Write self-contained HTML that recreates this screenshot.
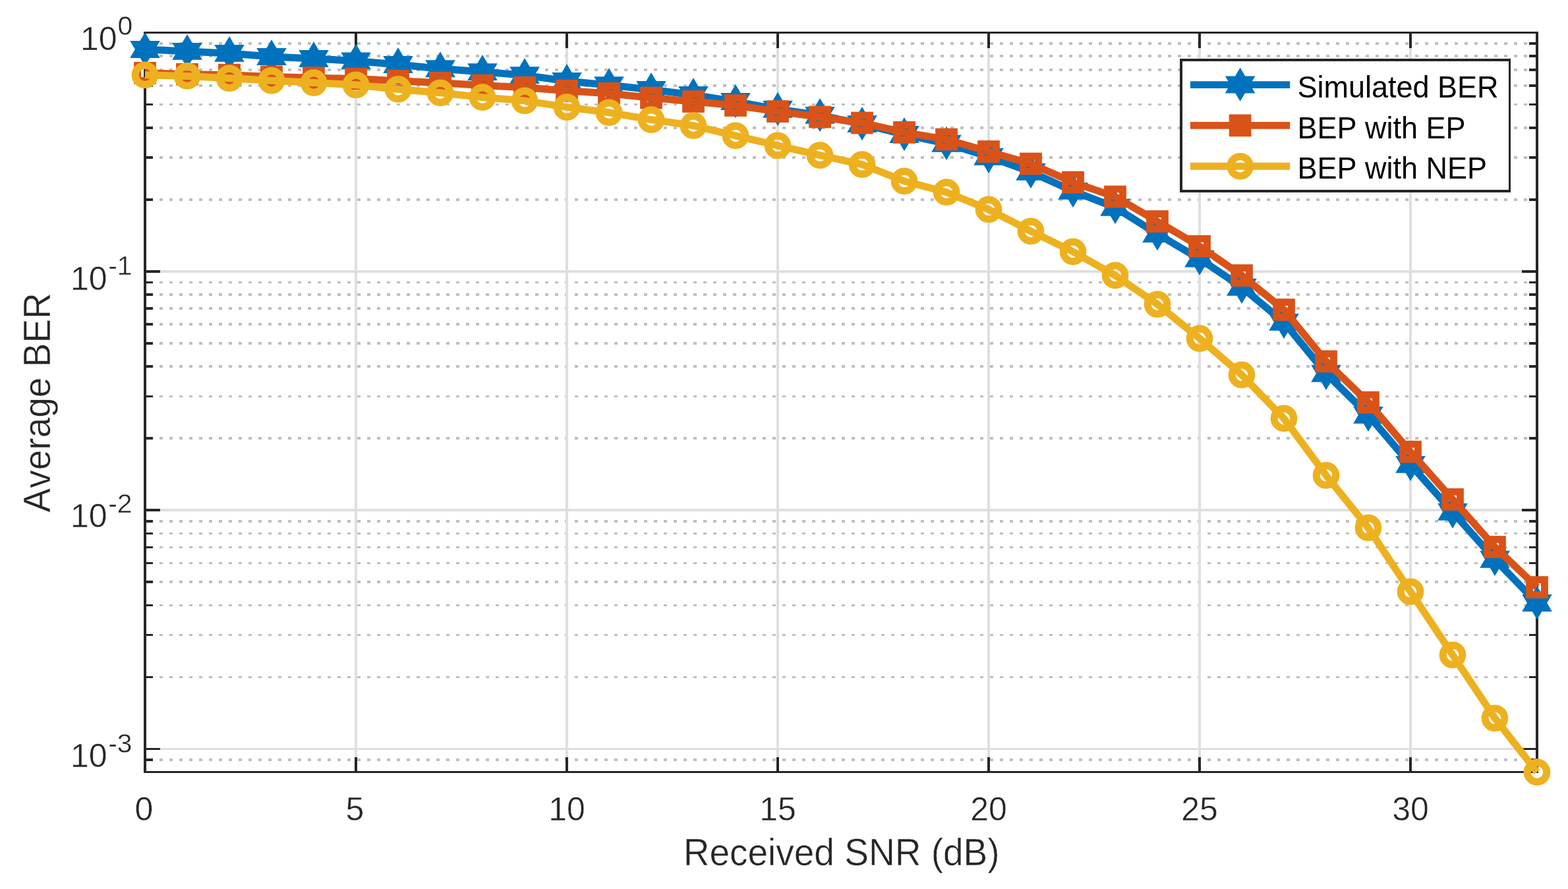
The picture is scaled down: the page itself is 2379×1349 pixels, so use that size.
<!DOCTYPE html>
<html lang="en">
<head>
<meta charset="utf-8">
<title>Average BER versus Received SNR</title>
<style>
html,body{margin:0;padding:0;background:#ffffff;}
body{width:2379px;height:1349px;overflow:hidden;}
svg{display:block;}
text{font-family:"Liberation Sans",sans-serif;font-kerning:none;}
.tk{font-size:50px;fill:#262626;stroke:#ffffff;stroke-width:0.5px;}
.sup{font-size:40.8px;fill:#262626;stroke:#ffffff;stroke-width:0.4px;}
.lab{font-size:55px;fill:#262626;stroke:#ffffff;stroke-width:0.5px;}
.leg{font-size:45px;fill:#000000;}
</style>
</head>
<body>
<svg width="2379" height="1349" viewBox="0 0 2379 1349">
<rect x="0" y="0" width="2379" height="1349" fill="#ffffff"/>
<g id="minor-grid" stroke="#bfbfbf" stroke-dasharray="5 10" fill="none" shape-rendering="crispEdges">
<line x1="242" y1="303" x2="2320" y2="303" stroke-width="4"/>
<line x1="242" y1="239" x2="2320" y2="239" stroke-width="4"/>
<line x1="242" y1="194" x2="2320" y2="194" stroke-width="4"/>
<line x1="242" y1="158.5" x2="2320" y2="158.5" stroke-width="3"/>
<line x1="242" y1="130" x2="2320" y2="130" stroke-width="4"/>
<line x1="242" y1="106" x2="2320" y2="106" stroke-width="4"/>
<line x1="242" y1="85" x2="2320" y2="85" stroke-width="4"/>
<line x1="242" y1="66" x2="2320" y2="66" stroke-width="4"/>
<line x1="242" y1="665" x2="2320" y2="665" stroke-width="4"/>
<line x1="242" y1="601.5" x2="2320" y2="601.5" stroke-width="3"/>
<line x1="242" y1="556" x2="2320" y2="556" stroke-width="4"/>
<line x1="242" y1="521" x2="2320" y2="521" stroke-width="4"/>
<line x1="242" y1="492" x2="2320" y2="492" stroke-width="4"/>
<line x1="242" y1="468" x2="2320" y2="468" stroke-width="4"/>
<line x1="242" y1="447" x2="2320" y2="447" stroke-width="4"/>
<line x1="242" y1="428.5" x2="2320" y2="428.5" stroke-width="3"/>
<line x1="242" y1="1027.5" x2="2320" y2="1027.5" stroke-width="3"/>
<line x1="242" y1="963.5" x2="2320" y2="963.5" stroke-width="3"/>
<line x1="242" y1="918.5" x2="2320" y2="918.5" stroke-width="3"/>
<line x1="242" y1="883" x2="2320" y2="883" stroke-width="4"/>
<line x1="242" y1="854.5" x2="2320" y2="854.5" stroke-width="3"/>
<line x1="242" y1="830.5" x2="2320" y2="830.5" stroke-width="3"/>
<line x1="242" y1="809.5" x2="2320" y2="809.5" stroke-width="3"/>
<line x1="242" y1="791" x2="2320" y2="791" stroke-width="4"/>
<line x1="242" y1="1153" x2="2320" y2="1153" stroke-width="4"/>
</g>
<g id="major-grid" stroke="#dfdfdf" fill="none" shape-rendering="crispEdges">
<line x1="540" y1="51" x2="540" y2="1170" stroke-width="4"/>
<line x1="860" y1="51" x2="860" y2="1170" stroke-width="4"/>
<line x1="1180" y1="51" x2="1180" y2="1170" stroke-width="4"/>
<line x1="1500" y1="51" x2="1500" y2="1170" stroke-width="4"/>
<line x1="1820" y1="51" x2="1820" y2="1170" stroke-width="4"/>
<line x1="2140" y1="51" x2="2140" y2="1170" stroke-width="4"/>
<line x1="222" y1="412" x2="2330" y2="412" stroke-width="4"/>
<line x1="222" y1="774" x2="2330" y2="774" stroke-width="4"/>
<line x1="222" y1="1136.5" x2="2330" y2="1136.5" stroke-width="3"/>
</g>
<g id="axes" stroke="#262626" fill="none" shape-rendering="crispEdges">
<line x1="540" y1="1149" x2="540" y2="1171" stroke-width="4"/>
<line x1="540" y1="50" x2="540" y2="73" stroke-width="4"/>
<line x1="860" y1="1149" x2="860" y2="1171" stroke-width="4"/>
<line x1="860" y1="50" x2="860" y2="73" stroke-width="4"/>
<line x1="1180" y1="1149" x2="1180" y2="1171" stroke-width="4"/>
<line x1="1180" y1="50" x2="1180" y2="73" stroke-width="4"/>
<line x1="1500" y1="1149" x2="1500" y2="1171" stroke-width="4"/>
<line x1="1500" y1="50" x2="1500" y2="73" stroke-width="4"/>
<line x1="1820" y1="1149" x2="1820" y2="1171" stroke-width="4"/>
<line x1="1820" y1="50" x2="1820" y2="73" stroke-width="4"/>
<line x1="2140" y1="1149" x2="2140" y2="1171" stroke-width="4"/>
<line x1="2140" y1="50" x2="2140" y2="73" stroke-width="4"/>
<line x1="220" y1="412" x2="243" y2="412" stroke-width="4"/>
<line x1="2309" y1="412" x2="2332" y2="412" stroke-width="4"/>
<line x1="220" y1="774" x2="243" y2="774" stroke-width="4"/>
<line x1="2309" y1="774" x2="2332" y2="774" stroke-width="4"/>
<line x1="220" y1="1136.5" x2="243" y2="1136.5" stroke-width="3"/>
<line x1="2309" y1="1136.5" x2="2332" y2="1136.5" stroke-width="3"/>
<line x1="220" y1="303" x2="232" y2="303" stroke-width="4"/>
<line x1="2320" y1="303" x2="2332" y2="303" stroke-width="4"/>
<line x1="220" y1="239" x2="232" y2="239" stroke-width="4"/>
<line x1="2320" y1="239" x2="2332" y2="239" stroke-width="4"/>
<line x1="220" y1="194" x2="232" y2="194" stroke-width="4"/>
<line x1="2320" y1="194" x2="2332" y2="194" stroke-width="4"/>
<line x1="220" y1="158.5" x2="232" y2="158.5" stroke-width="3"/>
<line x1="2320" y1="158.5" x2="2332" y2="158.5" stroke-width="3"/>
<line x1="220" y1="130" x2="232" y2="130" stroke-width="4"/>
<line x1="2320" y1="130" x2="2332" y2="130" stroke-width="4"/>
<line x1="220" y1="106" x2="232" y2="106" stroke-width="4"/>
<line x1="2320" y1="106" x2="2332" y2="106" stroke-width="4"/>
<line x1="220" y1="85" x2="232" y2="85" stroke-width="4"/>
<line x1="2320" y1="85" x2="2332" y2="85" stroke-width="4"/>
<line x1="220" y1="66" x2="232" y2="66" stroke-width="4"/>
<line x1="2320" y1="66" x2="2332" y2="66" stroke-width="4"/>
<line x1="220" y1="665" x2="232" y2="665" stroke-width="4"/>
<line x1="2320" y1="665" x2="2332" y2="665" stroke-width="4"/>
<line x1="220" y1="601.5" x2="232" y2="601.5" stroke-width="3"/>
<line x1="2320" y1="601.5" x2="2332" y2="601.5" stroke-width="3"/>
<line x1="220" y1="556" x2="232" y2="556" stroke-width="4"/>
<line x1="2320" y1="556" x2="2332" y2="556" stroke-width="4"/>
<line x1="220" y1="521" x2="232" y2="521" stroke-width="4"/>
<line x1="2320" y1="521" x2="2332" y2="521" stroke-width="4"/>
<line x1="220" y1="492" x2="232" y2="492" stroke-width="4"/>
<line x1="2320" y1="492" x2="2332" y2="492" stroke-width="4"/>
<line x1="220" y1="468" x2="232" y2="468" stroke-width="4"/>
<line x1="2320" y1="468" x2="2332" y2="468" stroke-width="4"/>
<line x1="220" y1="447" x2="232" y2="447" stroke-width="4"/>
<line x1="2320" y1="447" x2="2332" y2="447" stroke-width="4"/>
<line x1="220" y1="428.5" x2="232" y2="428.5" stroke-width="3"/>
<line x1="2320" y1="428.5" x2="2332" y2="428.5" stroke-width="3"/>
<line x1="220" y1="1027.5" x2="232" y2="1027.5" stroke-width="3"/>
<line x1="2320" y1="1027.5" x2="2332" y2="1027.5" stroke-width="3"/>
<line x1="220" y1="963.5" x2="232" y2="963.5" stroke-width="3"/>
<line x1="2320" y1="963.5" x2="2332" y2="963.5" stroke-width="3"/>
<line x1="220" y1="918.5" x2="232" y2="918.5" stroke-width="3"/>
<line x1="2320" y1="918.5" x2="2332" y2="918.5" stroke-width="3"/>
<line x1="220" y1="883" x2="232" y2="883" stroke-width="4"/>
<line x1="2320" y1="883" x2="2332" y2="883" stroke-width="4"/>
<line x1="220" y1="854.5" x2="232" y2="854.5" stroke-width="3"/>
<line x1="2320" y1="854.5" x2="2332" y2="854.5" stroke-width="3"/>
<line x1="220" y1="830.5" x2="232" y2="830.5" stroke-width="3"/>
<line x1="2320" y1="830.5" x2="2332" y2="830.5" stroke-width="3"/>
<line x1="220" y1="809.5" x2="232" y2="809.5" stroke-width="3"/>
<line x1="2320" y1="809.5" x2="2332" y2="809.5" stroke-width="3"/>
<line x1="220" y1="791" x2="232" y2="791" stroke-width="4"/>
<line x1="2320" y1="791" x2="2332" y2="791" stroke-width="4"/>
<line x1="220" y1="1153" x2="232" y2="1153" stroke-width="4"/>
<line x1="2320" y1="1153" x2="2332" y2="1153" stroke-width="4"/>
<line x1="218" y1="49.5" x2="2334" y2="49.5" stroke-width="3"/>
<line x1="218" y1="1171.5" x2="2334" y2="1171.5" stroke-width="3"/>
<line x1="220" y1="48" x2="220" y2="1173" stroke-width="4"/>
<line x1="2332" y1="48" x2="2332" y2="1173" stroke-width="4"/>
</g>
<g id="xticklabels" class="tk" text-anchor="middle">
<text x="218.4" y="1245">0</text>
<text x="538.4" y="1245">5</text>
<text x="860" y="1245">10</text>
<text x="1180" y="1245">15</text>
<text x="1500" y="1245">20</text>
<text x="1820" y="1245">25</text>
<text x="2140" y="1245">30</text>
</g>
<g id="yticklabels">
<text class="tk" x="122" y="76.1">10</text><text class="sup" x="178.4" y="53.4">0</text>
<text class="tk" x="107" y="439.9">10</text><text class="sup" x="164.2" y="417">-1</text>
<text class="tk" x="107" y="800">10</text><text class="sup" x="164.2" y="777.9">-2</text>
<text class="tk" x="107" y="1164">10</text><text class="sup" x="164.2" y="1141.5">-3</text>
</g>
<text class="lab" text-anchor="middle" transform="translate(1276.6 1313.2) scale(1 1.04)">Received SNR (dB)</text>
<text class="lab" text-anchor="middle" transform="translate(76 610.8) rotate(-90) scale(1 1.04)">Average BER</text>
<g id="simulated-ber">
<polyline points="220,74.95 284,77.9 348,80.9 412,85.95 476,89 540,92.4 604,98 668,104.2 732,109.1 796,114.1 860,123 924,129.15 988,136.05 1052,143.95 1116,154.05 1180,165.8 1244,174.9 1308,188.1 1372,204.05 1436,217.8 1500,237.7 1564,260.9 1628,289.9 1692,314.8 1756,355.1 1820,392.65 1884,435.7 1948,488.9 2012,566.8 2076,629.9 2140,704.9 2204,776.8 2268,848.8 2332,915.05" fill="none" stroke="#0072BD" stroke-width="11.0" stroke-linejoin="miter" stroke-linecap="butt"/>
<polygon points="220,48.95 242.8,87.9 197.2,87.9" fill="#0072BD"/><polygon points="220,100.15 242.8,62 197.2,62" fill="#0072BD"/>
<polygon points="284,51.9 306.8,90.85 261.2,90.85" fill="#0072BD"/><polygon points="284,103.1 306.8,64.95 261.2,64.95" fill="#0072BD"/>
<polygon points="348,54.9 370.8,93.85 325.2,93.85" fill="#0072BD"/><polygon points="348,106.1 370.8,67.95 325.2,67.95" fill="#0072BD"/>
<polygon points="412,59.95 434.8,98.9 389.2,98.9" fill="#0072BD"/><polygon points="412,111.15 434.8,73 389.2,73" fill="#0072BD"/>
<polygon points="476,63 498.8,101.95 453.2,101.95" fill="#0072BD"/><polygon points="476,114.2 498.8,76.05 453.2,76.05" fill="#0072BD"/>
<polygon points="540,66.4 562.8,105.35 517.2,105.35" fill="#0072BD"/><polygon points="540,117.6 562.8,79.45 517.2,79.45" fill="#0072BD"/>
<polygon points="604,72 626.8,110.95 581.2,110.95" fill="#0072BD"/><polygon points="604,123.2 626.8,85.05 581.2,85.05" fill="#0072BD"/>
<polygon points="668,78.2 690.8,117.15 645.2,117.15" fill="#0072BD"/><polygon points="668,129.4 690.8,91.25 645.2,91.25" fill="#0072BD"/>
<polygon points="732,83.1 754.8,122.05 709.2,122.05" fill="#0072BD"/><polygon points="732,134.3 754.8,96.15 709.2,96.15" fill="#0072BD"/>
<polygon points="796,88.1 818.8,127.05 773.2,127.05" fill="#0072BD"/><polygon points="796,139.3 818.8,101.15 773.2,101.15" fill="#0072BD"/>
<polygon points="860,97 882.8,135.95 837.2,135.95" fill="#0072BD"/><polygon points="860,148.2 882.8,110.05 837.2,110.05" fill="#0072BD"/>
<polygon points="924,103.15 946.8,142.1 901.2,142.1" fill="#0072BD"/><polygon points="924,154.35 946.8,116.2 901.2,116.2" fill="#0072BD"/>
<polygon points="988,110.05 1010.8,149 965.2,149" fill="#0072BD"/><polygon points="988,161.25 1010.8,123.1 965.2,123.1" fill="#0072BD"/>
<polygon points="1052,117.95 1074.8,156.9 1029.2,156.9" fill="#0072BD"/><polygon points="1052,169.15 1074.8,131 1029.2,131" fill="#0072BD"/>
<polygon points="1116,128.05 1138.8,167 1093.2,167" fill="#0072BD"/><polygon points="1116,179.25 1138.8,141.1 1093.2,141.1" fill="#0072BD"/>
<polygon points="1180,139.8 1202.8,178.75 1157.2,178.75" fill="#0072BD"/><polygon points="1180,191 1202.8,152.85 1157.2,152.85" fill="#0072BD"/>
<polygon points="1244,148.9 1266.8,187.85 1221.2,187.85" fill="#0072BD"/><polygon points="1244,200.1 1266.8,161.95 1221.2,161.95" fill="#0072BD"/>
<polygon points="1308,162.1 1330.8,201.05 1285.2,201.05" fill="#0072BD"/><polygon points="1308,213.3 1330.8,175.15 1285.2,175.15" fill="#0072BD"/>
<polygon points="1372,178.05 1394.8,217 1349.2,217" fill="#0072BD"/><polygon points="1372,229.25 1394.8,191.1 1349.2,191.1" fill="#0072BD"/>
<polygon points="1436,191.8 1458.8,230.75 1413.2,230.75" fill="#0072BD"/><polygon points="1436,243 1458.8,204.85 1413.2,204.85" fill="#0072BD"/>
<polygon points="1500,211.7 1522.8,250.65 1477.2,250.65" fill="#0072BD"/><polygon points="1500,262.9 1522.8,224.75 1477.2,224.75" fill="#0072BD"/>
<polygon points="1564,234.9 1586.8,273.85 1541.2,273.85" fill="#0072BD"/><polygon points="1564,286.1 1586.8,247.95 1541.2,247.95" fill="#0072BD"/>
<polygon points="1628,263.9 1650.8,302.85 1605.2,302.85" fill="#0072BD"/><polygon points="1628,315.1 1650.8,276.95 1605.2,276.95" fill="#0072BD"/>
<polygon points="1692,288.8 1714.8,327.75 1669.2,327.75" fill="#0072BD"/><polygon points="1692,340 1714.8,301.85 1669.2,301.85" fill="#0072BD"/>
<polygon points="1756,329.1 1778.8,368.05 1733.2,368.05" fill="#0072BD"/><polygon points="1756,380.3 1778.8,342.15 1733.2,342.15" fill="#0072BD"/>
<polygon points="1820,366.65 1842.8,405.6 1797.2,405.6" fill="#0072BD"/><polygon points="1820,417.85 1842.8,379.7 1797.2,379.7" fill="#0072BD"/>
<polygon points="1884,409.7 1906.8,448.65 1861.2,448.65" fill="#0072BD"/><polygon points="1884,460.9 1906.8,422.75 1861.2,422.75" fill="#0072BD"/>
<polygon points="1948,462.9 1970.8,501.85 1925.2,501.85" fill="#0072BD"/><polygon points="1948,514.1 1970.8,475.95 1925.2,475.95" fill="#0072BD"/>
<polygon points="2012,540.8 2034.8,579.75 1989.2,579.75" fill="#0072BD"/><polygon points="2012,592 2034.8,553.85 1989.2,553.85" fill="#0072BD"/>
<polygon points="2076,603.9 2098.8,642.85 2053.2,642.85" fill="#0072BD"/><polygon points="2076,655.1 2098.8,616.95 2053.2,616.95" fill="#0072BD"/>
<polygon points="2140,678.9 2162.8,717.85 2117.2,717.85" fill="#0072BD"/><polygon points="2140,730.1 2162.8,691.95 2117.2,691.95" fill="#0072BD"/>
<polygon points="2204,750.8 2226.8,789.75 2181.2,789.75" fill="#0072BD"/><polygon points="2204,802 2226.8,763.85 2181.2,763.85" fill="#0072BD"/>
<polygon points="2268,822.8 2290.8,861.75 2245.2,861.75" fill="#0072BD"/><polygon points="2268,874 2290.8,835.85 2245.2,835.85" fill="#0072BD"/>
<polygon points="2332,889.05 2354.8,928 2309.2,928" fill="#0072BD"/><polygon points="2332,940.25 2354.8,902.1 2309.2,902.1" fill="#0072BD"/>
</g>
<g id="bep-ep">
<polyline points="220,110.8 284,112.7 348,113.7 412,116.5 476,118.1 540,119.6 604,122.7 668,125.7 732,129.6 796,132.8 860,137.7 924,141.7 988,148.5 1052,154 1116,160 1180,169.1 1244,177.5 1308,186.5 1372,200.9 1436,211.5 1500,230 1564,248.5 1628,276.6 1692,298.5 1756,336 1820,373.7 1884,418 1948,470 2012,548.4 2076,610.6 2140,685.6 2204,757.8 2268,830 2332,891.1" fill="none" stroke="#D95319" stroke-width="11.0" stroke-linejoin="miter" stroke-linecap="butt"/>
<rect x="208.55" y="99.35" width="22.9" height="22.9" fill="none" stroke="#D95319" stroke-width="10.85"/>
<rect x="272.55" y="101.25" width="22.9" height="22.9" fill="none" stroke="#D95319" stroke-width="10.85"/>
<rect x="336.55" y="102.25" width="22.9" height="22.9" fill="none" stroke="#D95319" stroke-width="10.85"/>
<rect x="400.55" y="105.05" width="22.9" height="22.9" fill="none" stroke="#D95319" stroke-width="10.85"/>
<rect x="464.55" y="106.65" width="22.9" height="22.9" fill="none" stroke="#D95319" stroke-width="10.85"/>
<rect x="528.55" y="108.15" width="22.9" height="22.9" fill="none" stroke="#D95319" stroke-width="10.85"/>
<rect x="592.55" y="111.25" width="22.9" height="22.9" fill="none" stroke="#D95319" stroke-width="10.85"/>
<rect x="656.55" y="114.25" width="22.9" height="22.9" fill="none" stroke="#D95319" stroke-width="10.85"/>
<rect x="720.55" y="118.15" width="22.9" height="22.9" fill="none" stroke="#D95319" stroke-width="10.85"/>
<rect x="784.55" y="121.35" width="22.9" height="22.9" fill="none" stroke="#D95319" stroke-width="10.85"/>
<rect x="848.55" y="126.25" width="22.9" height="22.9" fill="none" stroke="#D95319" stroke-width="10.85"/>
<rect x="912.55" y="130.25" width="22.9" height="22.9" fill="none" stroke="#D95319" stroke-width="10.85"/>
<rect x="976.55" y="137.05" width="22.9" height="22.9" fill="none" stroke="#D95319" stroke-width="10.85"/>
<rect x="1040.55" y="142.55" width="22.9" height="22.9" fill="none" stroke="#D95319" stroke-width="10.85"/>
<rect x="1104.55" y="148.55" width="22.9" height="22.9" fill="none" stroke="#D95319" stroke-width="10.85"/>
<rect x="1168.55" y="157.65" width="22.9" height="22.9" fill="none" stroke="#D95319" stroke-width="10.85"/>
<rect x="1232.55" y="166.05" width="22.9" height="22.9" fill="none" stroke="#D95319" stroke-width="10.85"/>
<rect x="1296.55" y="175.05" width="22.9" height="22.9" fill="none" stroke="#D95319" stroke-width="10.85"/>
<rect x="1360.55" y="189.45" width="22.9" height="22.9" fill="none" stroke="#D95319" stroke-width="10.85"/>
<rect x="1424.55" y="200.05" width="22.9" height="22.9" fill="none" stroke="#D95319" stroke-width="10.85"/>
<rect x="1488.55" y="218.55" width="22.9" height="22.9" fill="none" stroke="#D95319" stroke-width="10.85"/>
<rect x="1552.55" y="237.05" width="22.9" height="22.9" fill="none" stroke="#D95319" stroke-width="10.85"/>
<rect x="1616.55" y="265.15" width="22.9" height="22.9" fill="none" stroke="#D95319" stroke-width="10.85"/>
<rect x="1680.55" y="287.05" width="22.9" height="22.9" fill="none" stroke="#D95319" stroke-width="10.85"/>
<rect x="1744.55" y="324.55" width="22.9" height="22.9" fill="none" stroke="#D95319" stroke-width="10.85"/>
<rect x="1808.55" y="362.25" width="22.9" height="22.9" fill="none" stroke="#D95319" stroke-width="10.85"/>
<rect x="1872.55" y="406.55" width="22.9" height="22.9" fill="none" stroke="#D95319" stroke-width="10.85"/>
<rect x="1936.55" y="458.55" width="22.9" height="22.9" fill="none" stroke="#D95319" stroke-width="10.85"/>
<rect x="2000.55" y="536.95" width="22.9" height="22.9" fill="none" stroke="#D95319" stroke-width="10.85"/>
<rect x="2064.55" y="599.15" width="22.9" height="22.9" fill="none" stroke="#D95319" stroke-width="10.85"/>
<rect x="2128.55" y="674.15" width="22.9" height="22.9" fill="none" stroke="#D95319" stroke-width="10.85"/>
<rect x="2192.55" y="746.35" width="22.9" height="22.9" fill="none" stroke="#D95319" stroke-width="10.85"/>
<rect x="2256.55" y="818.55" width="22.9" height="22.9" fill="none" stroke="#D95319" stroke-width="10.85"/>
<rect x="2320.55" y="879.65" width="22.9" height="22.9" fill="none" stroke="#D95319" stroke-width="10.85"/>
</g>
<g id="bep-nep">
<polyline points="220,113.75 284,115.45 348,118.75 412,122.25 476,125.55 540,128.75 604,135.45 668,140.75 732,147.65 796,152.85 860,162.65 924,170.75 988,181.55 1052,190.65 1116,205.95 1180,220.85 1244,235.65 1308,249.55 1372,274.85 1436,291.65 1500,317.85 1564,350.75 1628,381.85 1692,417.85 1756,461.75 1820,513.55 1884,568.85 1948,634.95 2012,721.35 2076,800.95 2140,897.75 2204,993.75 2268,1089.75 2332,1171.7" fill="none" stroke="#EDB120" stroke-width="11.0" stroke-linejoin="miter" stroke-linecap="butt"/>
<circle cx="220" cy="113.75" r="14.8" fill="none" stroke="#EDB120" stroke-width="11.1"/>
<circle cx="284" cy="115.45" r="14.8" fill="none" stroke="#EDB120" stroke-width="11.1"/>
<circle cx="348" cy="118.75" r="14.8" fill="none" stroke="#EDB120" stroke-width="11.1"/>
<circle cx="412" cy="122.25" r="14.8" fill="none" stroke="#EDB120" stroke-width="11.1"/>
<circle cx="476" cy="125.55" r="14.8" fill="none" stroke="#EDB120" stroke-width="11.1"/>
<circle cx="540" cy="128.75" r="14.8" fill="none" stroke="#EDB120" stroke-width="11.1"/>
<circle cx="604" cy="135.45" r="14.8" fill="none" stroke="#EDB120" stroke-width="11.1"/>
<circle cx="668" cy="140.75" r="14.8" fill="none" stroke="#EDB120" stroke-width="11.1"/>
<circle cx="732" cy="147.65" r="14.8" fill="none" stroke="#EDB120" stroke-width="11.1"/>
<circle cx="796" cy="152.85" r="14.8" fill="none" stroke="#EDB120" stroke-width="11.1"/>
<circle cx="860" cy="162.65" r="14.8" fill="none" stroke="#EDB120" stroke-width="11.1"/>
<circle cx="924" cy="170.75" r="14.8" fill="none" stroke="#EDB120" stroke-width="11.1"/>
<circle cx="988" cy="181.55" r="14.8" fill="none" stroke="#EDB120" stroke-width="11.1"/>
<circle cx="1052" cy="190.65" r="14.8" fill="none" stroke="#EDB120" stroke-width="11.1"/>
<circle cx="1116" cy="205.95" r="14.8" fill="none" stroke="#EDB120" stroke-width="11.1"/>
<circle cx="1180" cy="220.85" r="14.8" fill="none" stroke="#EDB120" stroke-width="11.1"/>
<circle cx="1244" cy="235.65" r="14.8" fill="none" stroke="#EDB120" stroke-width="11.1"/>
<circle cx="1308" cy="249.55" r="14.8" fill="none" stroke="#EDB120" stroke-width="11.1"/>
<circle cx="1372" cy="274.85" r="14.8" fill="none" stroke="#EDB120" stroke-width="11.1"/>
<circle cx="1436" cy="291.65" r="14.8" fill="none" stroke="#EDB120" stroke-width="11.1"/>
<circle cx="1500" cy="317.85" r="14.8" fill="none" stroke="#EDB120" stroke-width="11.1"/>
<circle cx="1564" cy="350.75" r="14.8" fill="none" stroke="#EDB120" stroke-width="11.1"/>
<circle cx="1628" cy="381.85" r="14.8" fill="none" stroke="#EDB120" stroke-width="11.1"/>
<circle cx="1692" cy="417.85" r="14.8" fill="none" stroke="#EDB120" stroke-width="11.1"/>
<circle cx="1756" cy="461.75" r="14.8" fill="none" stroke="#EDB120" stroke-width="11.1"/>
<circle cx="1820" cy="513.55" r="14.8" fill="none" stroke="#EDB120" stroke-width="11.1"/>
<circle cx="1884" cy="568.85" r="14.8" fill="none" stroke="#EDB120" stroke-width="11.1"/>
<circle cx="1948" cy="634.95" r="14.8" fill="none" stroke="#EDB120" stroke-width="11.1"/>
<circle cx="2012" cy="721.35" r="14.8" fill="none" stroke="#EDB120" stroke-width="11.1"/>
<circle cx="2076" cy="800.95" r="14.8" fill="none" stroke="#EDB120" stroke-width="11.1"/>
<circle cx="2140" cy="897.75" r="14.8" fill="none" stroke="#EDB120" stroke-width="11.1"/>
<circle cx="2204" cy="993.75" r="14.8" fill="none" stroke="#EDB120" stroke-width="11.1"/>
<circle cx="2268" cy="1089.75" r="14.8" fill="none" stroke="#EDB120" stroke-width="11.1"/>
<circle cx="2332" cy="1171.7" r="14.8" fill="none" stroke="#EDB120" stroke-width="11.1"/>
</g>
<g id="legend">
<rect x="1790" y="89" width="502" height="203" fill="#ffffff"/>
<g stroke="#262626" fill="none" shape-rendering="crispEdges">
<line x1="1790" y1="91" x2="2292" y2="91" stroke-width="4"/>
<line x1="1790" y1="290" x2="2292" y2="290" stroke-width="4"/>
<line x1="1792" y1="89" x2="1792" y2="292" stroke-width="4"/>
<line x1="2290.5" y1="89" x2="2290.5" y2="292" stroke-width="3"/>
</g>
<line x1="1805.9" y1="128.55" x2="1957.2" y2="128.55" stroke="#0072BD" stroke-width="10.85"/>
<polygon points="1881.6,102.55 1904.4,141.5 1858.8,141.5" fill="#0072BD"/><polygon points="1881.6,153.75 1904.4,115.6 1858.8,115.6" fill="#0072BD"/>
<text class="leg" transform="translate(1968.4 147.65) scale(1 1.045)">Simulated BER</text>
<line x1="1805.9" y1="190.4" x2="1957.2" y2="190.4" stroke="#D95319" stroke-width="10.85"/>
<rect x="1870.15" y="178.95" width="22.9" height="22.9" fill="#D95319" stroke="#D95319" stroke-width="10.85"/>
<text class="leg" transform="translate(1968.4 209.5) scale(1 1.045)">BEP with EP</text>
<line x1="1805.9" y1="252.25" x2="1957.2" y2="252.25" stroke="#EDB120" stroke-width="10.85"/>
<circle cx="1881.6" cy="252.25" r="14.8" fill="none" stroke="#EDB120" stroke-width="11.1"/>
<text class="leg" transform="translate(1968.4 271.35) scale(1 1.045)">BEP with NEP</text>
</g>
</svg>
</body>
</html>
